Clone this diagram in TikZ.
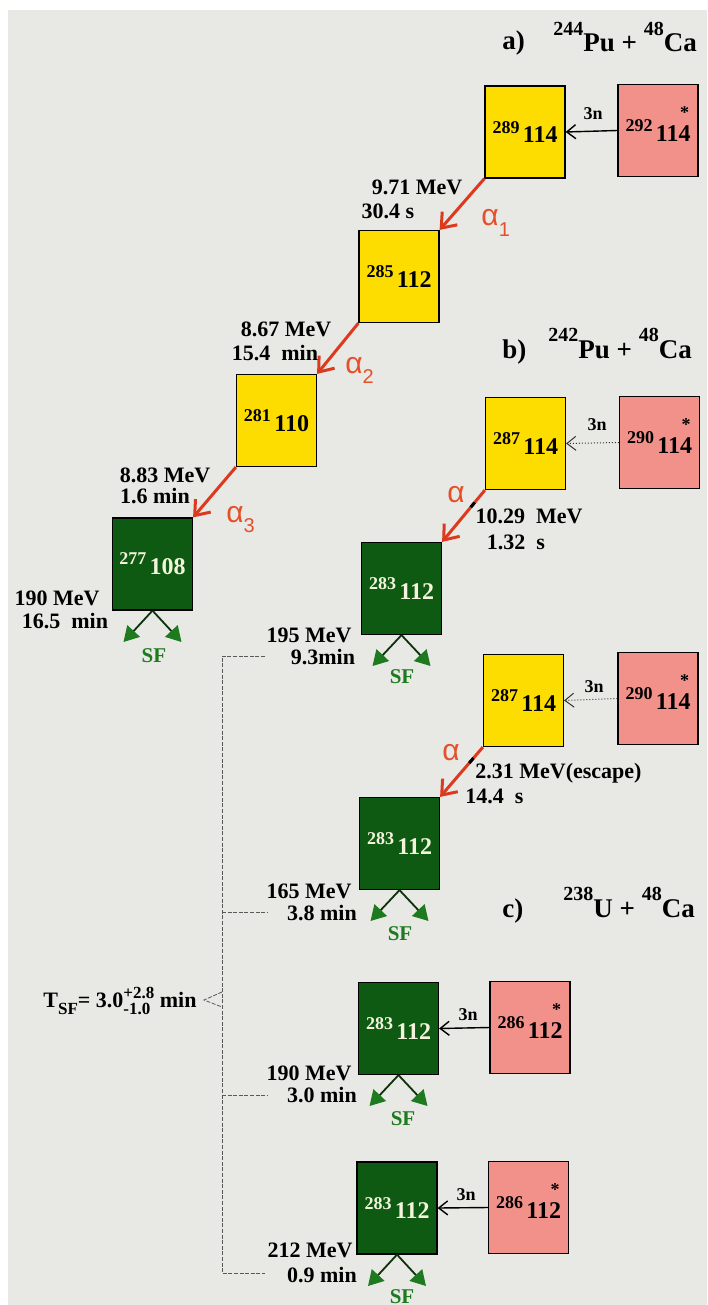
\documentclass[tikz,border=0pt]{standalone}
\usepackage{fontspec}
\setmainfont{Liberation Serif}
\newfontfamily\alphafont{Liberation Sans}
\usetikzlibrary{arrows.meta,calc}

\definecolor{bgc}{HTML}{E8E8E4}
\definecolor{ycol}{HTML}{FDDD00}
\definecolor{gcol}{HTML}{0E5A12}
\definecolor{pcol}{HTML}{F2918A}
\definecolor{ared}{HTML}{DC3A1E}
\definecolor{alab}{HTML}{E5502A}
\definecolor{sfg}{HTML}{1E7A1E}
\definecolor{gtext}{HTML}{F4F4DC}

\newcommand{\iso}[2]{{\fontsize{9}{9}\selectfont\raisebox{0.55em}{#1}}\,{\fontsize{12}{12}\selectfont #2}}
\newcommand{\isoS}[3]{{\fontsize{9}{9}\selectfont\raisebox{0.55em}{#1}}\,{\fontsize{12}{12}\selectfont #2\ooalign{#3\cr\hfil\raisebox{0.95em}{\fontsize{9}{9}\selectfont *}\hfil}}}
\newcommand{\hsup}[1]{\raisebox{0.6em}{\fontsize{10}{10}\selectfont #1}}
\newcommand{\alf}[1]{α\raisebox{-0.35em}{\fontsize{10}{10}\selectfont #1}}

\tikzset{
  box/.style={draw=black, line width=0.6pt, minimum width=40pt, minimum height=46pt, inner sep=0pt, font=\bfseries},
  ybox/.style={box, fill=ycol},
  gbox/.style={box, fill=gcol, text=gtext},
  pbox/.style={box, fill=pcol},
  lab/.style={font=\bfseries\fontsize{11}{12}\selectfont, anchor=base, inner sep=0pt},
  labw/.style={lab, anchor=base west},
  hdr/.style={font=\bfseries\fontsize{13.5}{14}\selectfont, anchor=base west, inner sep=0pt},
  nlab/.style={font=\bfseries\fontsize{9}{10}\selectfont, anchor=base, inner sep=0pt},
  alab/.style={font=\alphafont\fontsize{15}{15}\selectfont, text=alab, anchor=base west, inner sep=0pt},
  sflab/.style={font=\bfseries\fontsize{10.5}{11}\selectfont, text=sfg, anchor=base, inner sep=0pt},
  aarrow/.style={draw=ared, line width=1.5pt, -{Straight Barb[length=6.5pt,width=10pt]}},
  narrow/.style={draw=black, line width=0.7pt, -{Straight Barb[length=4.5pt,width=7pt]}},
  narrowd/.style={draw=black!80, line width=0.5pt, densely dotted, -{Straight Barb[length=4.5pt,width=7pt]}},
  sfarrow/.style={draw=black!60!sfg, line width=0.9pt, -{Triangle[length=7.5pt,width=8.5pt,color=sfg]}},
  brk/.style={draw=black!65, line width=0.4pt, dash pattern=on 2pt off 0.8pt},
  tick/.style={draw=black, line width=1.5pt}
}

\begin{document}
\begin{tikzpicture}[x=0.5pt, y=-0.5pt]
\useasboundingbox (0,0) rectangle (707,1305);
\fill[white] (0,0) rectangle (707,1305);
\fill[bgc] (8,10) rectangle (707,1305);

% headers
\node[hdr] (ha) at (502,50) {a)};
\node[hdr] (hra) at (553,52) {\hsup{244}Pu + \hsup{48}Ca};
\node[hdr] (hb) at (502,358) {b)};
\node[hdr] (hrb) at (548,358) {\hsup{242}Pu + \hsup{48}Ca};
\node[hdr] (hc) at (502,917) {c)};
\node[hdr] (hrc) at (563,917) {\hsup{238}U + \hsup{48}Ca};

% boxes a)
\node[ybox] (A1) at (525,132) {\iso{289}{114}};
\node[pbox] (A0) at (658,130.5) {\isoS{292}{11}{4}};
\node[ybox] (A2) at (399,276.5) {\iso{285}{112}};
\node[ybox] (A3) at (276.5,420.5) {\iso{281}{110}};
\node[gbox] (A4) at (152.5,564) {\iso{277}{108}};
% boxes b)
\node[ybox] (B1) at (525.5,443.5) {\iso{287}{114}};
\node[pbox] (B0) at (659.5,442.5) {\isoS{290}{11}{4}};
\node[gbox] (B2) at (401.5,588.5) {\iso{283}{112}};
\node[ybox] (C1) at (523.5,700.5) {\iso{287}{114}};
\node[pbox] (C0) at (658,698.5) {\isoS{290}{11}{4}};
\node[gbox] (C2) at (399.5,843.5) {\iso{283}{112}};
% boxes c)
\node[gbox] (D1) at (398.5,1028.5) {\iso{283}{112}};
\node[pbox] (D0) at (530,1027.5) {\isoS{286}{11}{2}};
\node[gbox] (E1) at (397,1208) {\iso{283}{112}};
\node[pbox] (E0) at (528.5,1207.5) {\isoS{286}{11}{2}};

% 3n arrows
\draw[narrow] (A0.west) -- (A1.east);
\draw[narrowd] (B0.west) -- (B1.east);
\draw[narrowd] (C0.west) -- (C1.east);
\draw[narrow] (D0.west) -- (D1.east);
\draw[narrow] (E0.west) -- (E1.east);
\node[nlab] (n1) at (593,120) {3n};
\node[nlab] (n2) at (597,430) {3n};
\node[nlab] (n3) at (594,692) {3n};
\node[nlab] (n4) at (468,1020) {3n};
\node[nlab] (n5) at (466,1200) {3n};

% alpha arrows
\draw[aarrow] (A1.south west) -- (A2.north east);
\draw[aarrow] (A2.south west) -- (A3.north east);
\draw[aarrow] (A3.south west) -- (A4.north east);
\draw[aarrow] (B1.south west) -- (B2.north east);
\draw[aarrow] (C1.south west) -- (C2.north east);
\draw[tick] ($(B1.south west)!0.24!(B2.north east)$) -- ($(B1.south west)!0.33!(B2.north east)$);
\draw[tick] ($(C1.south west)!0.22!(C2.north east)$) -- ($(C1.south west)!0.32!(C2.north east)$);

\node[alab] (al1) at (481,226) {\alf{1}};
\node[alab] (al2) at (345,373) {\alf{2}};
\node[alab] (al3) at (226,522) {\alf{3}};
\node[alab] (al4) at (447,502) {α};
\node[alab] (al5) at (442,760) {α};

% energy / time labels
\node[lab] (l1) at (417,195) {9.71 MeV};
\node[lab] (l2) at (388,219) {30.4 s};
\node[lab] (l3) at (286,336) {8.67 MeV};
\node[lab] (l4) at (275,360) {15.4\ \ min};
\node[lab] (l5) at (165,482) {8.83 MeV};
\node[lab] (l6) at (155,503) {1.6 min};
\node[lab] (l7) at (57,605) {190 MeV};
\node[lab] (l8) at (65,628) {16.5\ \ min};
\node[lab] (l9) at (309,642) {195 MeV};
\node[lab] (l10) at (323,664) {9.3min};
\node[lab] (l11) at (529,523) {10.29\ \ MeV};
\node[lab] (l12) at (516,549) {1.32\ \ s};
\node[labw] (l13) at (475,778) {2.31 MeV(escape)};
\node[labw] (l14) at (465,803) {14.4\ \ s};
\node[lab] (l15) at (309,898) {165 MeV};
\node[lab] (l16) at (322,920) {3.8 min};
\node[lab] (l17) at (309,1080) {190 MeV};
\node[lab] (l18) at (322,1102) {3.0 min};
\node[lab] (l19) at (310,1257) {212 MeV};
\node[lab] (l20) at (322,1282) {0.9 min};

% SF arrows
\coordinate (A4l) at (123.5,642); \coordinate (A4r) at (181.5,642);
\coordinate (B2l) at (372.5,666); \coordinate (B2r) at (430.5,666);
\coordinate (C2l) at (370.5,921); \coordinate (C2r) at (428.5,921);
\coordinate (D1l) at (369.5,1106); \coordinate (D1r) at (427.5,1106);
\coordinate (E1l) at (368,1286); \coordinate (E1r) at (426,1286);
\foreach \b in {A4,B2,C2,D1,E1}{
  \draw[sfarrow] (\b.south) -- (\b l);
  \draw[sfarrow] (\b.south) -- (\b r);
}
\node[sflab] (sf1) at (154,662) {SF};
\node[sflab] (sf2) at (402,683) {SF};
\node[sflab] (sf3) at (400,940) {SF};
\node[sflab] (sf4) at (403,1125) {SF};
\node[sflab] (sf5) at (402,1303) {SF};

% bracket
\coordinate (bt1) at (265,656); \coordinate (bv1) at (222,656);
\coordinate (bt2) at (267,912); \coordinate (bv2) at (222,912);
\coordinate (bt3) at (267,1095); \coordinate (bv3) at (222,1095);
\coordinate (bt4) at (265,1273); \coordinate (bv4) at (222,1273);
\coordinate (bc1) at (222,992); \coordinate (btip) at (204,1000); \coordinate (bc2) at (222,1007);
\draw[brk] (bt1) -- (bv1) -- (bv4) -- (bt4);
\draw[brk] (bv2) -- (bt2);
\draw[brk] (bv3) -- (bt3);
\draw[brk] (bc1) -- (btip) -- (bc2);

\node[anchor=base west, inner sep=0pt, font=\bfseries\fontsize{11}{11}\selectfont] (tsf) at (43,1007)
  {T\raisebox{-0.35em}{\fontsize{8.5}{8.5}\selectfont SF}= 3.0{\fontsize{8.5}{8.5}\selectfont\renewcommand{\arraystretch}{0.8}\begin{tabular}[c]{@{}l@{}}+2.8\\-1.0\end{tabular}}\ min};
\end{tikzpicture}
\end{document}
